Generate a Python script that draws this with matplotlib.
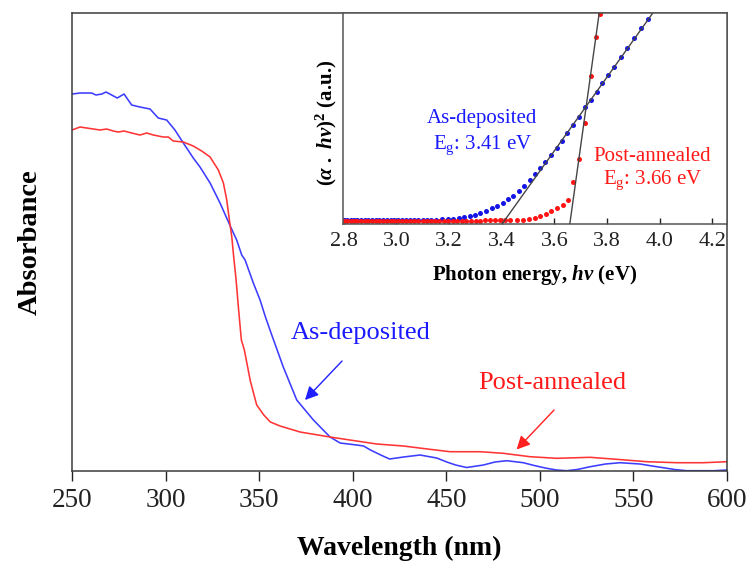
import matplotlib
matplotlib.use("Agg")
import matplotlib.pyplot as plt

# ---- UV-vis absorbance spectra (wavelength in nm, absorbance in a.u.) ----
wl_as = [250, 254.3, 260.5, 262.8, 265.9, 268.2, 271.2, 274.2, 277.8, 281.9,
         286.3, 291.7, 296.1, 300.6, 305.0, 309.5, 314.8, 318.4, 323.8, 329.1,
         334.8, 338.0, 340.7, 342.5, 346.9, 350.5, 353.2, 355.8, 362.9, 370.1,
         379.0, 387.9, 393.3, 402.2, 405.8, 409.5, 415.0, 419.7, 427.1, 436.0,
         444.9, 450.3, 455.0, 460.9, 469.8, 476.0, 482.3, 491.2, 497.0, 503.7,
         509.0, 514.4, 520.0, 526.9, 535.0, 542.9, 553.6, 560.0, 566.0, 572.0,
         578.5, 592.8, 600.0]
abs_as = [3.77, 3.78, 3.78, 3.76, 3.77, 3.79, 3.76, 3.73, 3.77, 3.66,
          3.64, 3.62, 3.53, 3.51, 3.41, 3.28, 3.13, 3.04, 2.88, 2.68,
          2.44, 2.31, 2.16, 2.11, 1.88, 1.71, 1.55, 1.41, 1.04, 0.71,
          0.51, 0.34, 0.28, 0.26, 0.25, 0.21, 0.16, 0.12, 0.14, 0.16,
          0.13, 0.09, 0.06, 0.035, 0.06, 0.09, 0.103, 0.083, 0.055, 0.027,
          0.01, 0.003, 0.015, 0.043, 0.07, 0.083, 0.07, 0.05, 0.033, 0.015,
          0.003, 0.003, 0.01]

wl_pa = [250, 254.3, 257.9, 261.4, 265.0, 268.5, 272.1, 274.7, 277.8, 281.9,
         286.3, 289.9, 293.5, 298.8, 301.5, 304.1, 309.5, 314.8, 319.3, 323.8,
         328.2, 330.9, 332.7, 334.1, 335.4, 336.2, 337.7, 338.9, 340.5, 342.1,
         345.3, 348.7, 352.5, 356.0, 361.2, 371.9, 387.9, 398.5, 412.9, 427.1,
         441.3, 452.0, 468.1, 480.5, 494.8, 509.1, 526.9, 541.1, 557.2, 573.2,
         587.4, 600.0]
abs_pa = [3.41, 3.44, 3.43, 3.42, 3.41, 3.42, 3.40, 3.39, 3.40, 3.38,
          3.36, 3.38, 3.36, 3.34, 3.34, 3.30, 3.29, 3.25, 3.20, 3.14,
          3.01, 2.88, 2.71, 2.51, 2.34, 2.18, 1.91, 1.64, 1.31, 1.21,
          0.90, 0.66, 0.56, 0.49, 0.45, 0.39, 0.34, 0.31, 0.27, 0.25,
          0.217, 0.193, 0.193, 0.177, 0.143, 0.127, 0.137, 0.117, 0.093, 0.083,
          0.083, 0.093]

# ---- Tauc plot data (photon energy in eV, (alpha*h*nu)^2 in a.u.) ----
e_as = [2.800, 2.813, 2.826, 2.839, 2.852, 2.866, 2.879, 2.893, 2.907, 2.921,
        2.935, 2.949, 2.963, 2.978, 2.992, 3.007, 3.022, 3.037, 3.052, 3.068,
        3.083, 3.099, 3.115, 3.131, 3.152, 3.174, 3.196, 3.215, 3.236, 3.255,
        3.278, 3.297, 3.316, 3.339, 3.361, 3.380, 3.403, 3.422, 3.443, 3.465,
        3.484, 3.507, 3.526, 3.545, 3.564, 3.585, 3.608, 3.630, 3.649, 3.672,
        3.693, 3.716, 3.738, 3.761, 3.782, 3.805, 3.827, 3.852, 3.877, 3.903,
        3.928, 3.957]
ahv_as = [0.03, 0.03, 0.03, 0.03, 0.03, 0.03, 0.03, 0.03, 0.03, 0.03,
          0.03, 0.03, 0.03, 0.03, 0.03, 0.04, 0.04, 0.04, 0.04, 0.04,
          0.04, 0.04, 0.04, 0.04, 0.05, 0.06, 0.07, 0.09, 0.12, 0.16,
          0.21, 0.27, 0.35, 0.47, 0.59, 0.72, 0.87, 1.03, 1.20, 1.44,
          1.69, 1.96, 2.25, 2.52, 2.84, 3.16, 3.52, 3.85, 4.20, 4.60,
          5.01, 5.46, 5.81, 6.21, 6.61, 7.01, 7.42, 7.87, 8.30, 8.78,
          9.26, 9.71]

e_pa = [2.800, 2.813, 2.826, 2.839, 2.852, 2.866, 2.879, 2.893, 2.907, 2.921,
        2.935, 2.949, 2.963, 2.978, 2.992, 3.007, 3.022, 3.037, 3.052, 3.068,
        3.083, 3.099, 3.115, 3.131, 3.147, 3.163, 3.180, 3.196, 3.213, 3.230,
        3.248, 3.265, 3.283, 3.301, 3.319, 3.337, 3.356, 3.375, 3.394, 3.413,
        3.433, 3.458, 3.482, 3.505, 3.526, 3.545, 3.566, 3.588, 3.610, 3.631,
        3.653, 3.672, 3.694, 3.716, 3.738, 3.758, 3.771]
ahv_pa = [0.0, 0.0, 0.0, 0.0, 0.0, 0.0, 0.0, 0.0, 0.0, 0.0,
          0.0, 0.0, 0.0, 0.0, 0.0, 0.0, 0.0, 0.0, 0.0, 0.0,
          0.0, 0.0, 0.0, 0.0, 0.0, 0.0, 0.0, 0.0, 0.0, 0.0,
          0.0, 0.0, 0.0, 0.0, 0.0, 0.01, 0.01, 0.01, 0.01, 0.01,
          0.02, 0.02, 0.03, 0.07, 0.13, 0.23, 0.33, 0.45, 0.60, 0.76,
          1.01, 1.85, 2.97, 4.72, 6.97, 8.83, 9.95]

# band gaps from the linear extrapolation and the slope of each fit line
eg_as, eg_pa = 3.41, 3.66
slope_as, slope_pa = 17.75, 91.0

wl_ticks = [250, 300, 350, 400, 450, 500, 550, 600]
e_ticks = [2.8, 3.0, 3.2, 3.4, 3.6, 3.8, 4.0, 4.2]

plt.rcParams.update({
    "font.family": ["Liberation Serif", "DejaVu Serif"],
    "mathtext.fontset": "custom",
    "mathtext.rm": "Liberation Serif:bold",
    "mathtext.it": "Liberation Serif:bold:italic",
    "mathtext.bf": "Liberation Serif:bold",
})

SPINE = "#3c3c3c"
BLUE_LINE = "#3d3dff"
RED_LINE = "#ff3535"

fig = plt.figure(figsize=(7.5, 5.61), dpi=100)

# ---------------- main absorbance panel ----------------
ax = fig.add_axes([0.096, 0.1604, 0.8733, 0.8164])
ax.plot(wl_as, abs_as, color=BLUE_LINE, lw=1.15)
ax.plot(wl_pa, abs_pa, color=RED_LINE, lw=1.15)
ax.set_xlim(250, 600)
ax.set_ylim(0, 4.58)
ax.set_xticks(wl_ticks)
ax.set_yticks([])
ax.tick_params(axis="x", direction="out", length=7.5, width=1.0,
               labelsize=19.5, pad=5, colors="#222222")
for s in ax.spines.values():
    s.set_color(SPINE)
    s.set_linewidth(1.1)

ax.set_xlabel("Wavelength (nm)", fontsize=20, fontweight="bold")
ax.xaxis.label.set_va("center")
ax.xaxis.set_label_coords(0.5, -0.168)
ax.set_ylabel("Absorbance", fontsize=20.5, fontweight="bold")
ax.yaxis.label.set_va("center")
ax.yaxis.set_label_coords(-0.064, 0.5)

ax.text(404.5, 1.38, "As-deposited", color="#1a1aff", fontsize=19,
        ha="center", va="center")
ax.annotate("", xy=(374.5, 0.71), xytext=(394.3, 1.10),
            arrowprops=dict(arrowstyle="-|>", color="#2020ff", lw=1.0,
                            mutation_scale=20, shrinkA=0, shrinkB=0))
ax.text(506.5, 0.88, "Post-annealed", color="#ff1a1a", fontsize=19,
        ha="center", va="center")
ax.annotate("", xy=(487.6, 0.215), xytext=(507.6, 0.61),
            arrowprops=dict(arrowstyle="-|>", color="#ff2020", lw=1.0,
                            mutation_scale=20, shrinkA=0, shrinkB=0))

# ---------------- Tauc plot inset ----------------
ins = fig.add_axes([0.4573, 0.6007, 0.5120, 0.3761])
ins.set_facecolor("white")
ins.set_xlim(2.797, 4.255)
ins.set_ylim(-0.16, 10.0)

y_lo, y_hi = -0.16, 10.6
ins.plot([eg_as + y_lo / slope_as, eg_as + y_hi / slope_as], [y_lo, y_hi],
         color="#454545", lw=1.0, zorder=3)
ins.plot([eg_pa + y_lo / slope_pa, eg_pa + y_hi / slope_pa], [y_lo, y_hi],
         color="#454545", lw=1.0, zorder=3)
ins.plot(e_as, ahv_as, "o", ms=3.6, color="#1414e6", mec="none", zorder=2)
ins.plot(e_pa, ahv_pa, "o", ms=3.6, color="#ff1414", mec="none", zorder=2)

ins.set_xticks(e_ticks)
ins.set_yticks([])
ins.tick_params(axis="x", direction="in", length=4, width=1.0,
                labelsize=16, pad=6, colors="#222222")
for s in ins.spines.values():
    s.set_color("#555555")
    s.set_linewidth(1.1)

ins.set_xlabel(r"Photon energy, $h\nu$ (eV)", fontsize=15, fontweight="bold")
ins.xaxis.label.set_va("center")
ins.xaxis.set_label_coords(0.5, -0.242)
ins.set_ylabel(r"$(\alpha\ .\ h\nu)^2$ (a.u.)", fontsize=15, fontweight="bold")
ins.yaxis.label.set_va("center")
ins.yaxis.set_label_coords(-0.044, 0.48)

ins.text(3.323, 4.9, "As-deposited", color="#1a1aff", fontsize=15,
         ha="center", va="center")
ins.text(3.329, 3.64, r"E$_\mathregular{g}$: 3.41 eV", color="#1a1aff",
         fontsize=15, ha="center", va="center")
ins.text(3.971, 3.07, "Post-annealed", color="#ff1a1a", fontsize=15,
         ha="center", va="center")
ins.text(3.975, 1.96, r"E$_\mathregular{g}$: 3.66 eV", color="#ff1a1a",
         fontsize=15, ha="center", va="center")

fig.savefig("out.png", dpi=100)
